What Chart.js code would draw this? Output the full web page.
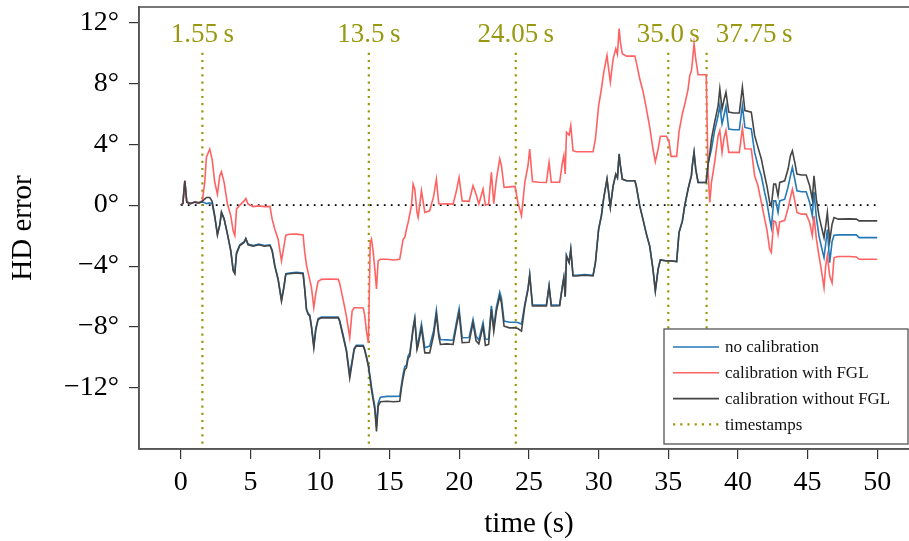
<!DOCTYPE html>
<html><head><meta charset="utf-8">
<script src="https://cdn.jsdelivr.net/npm/chart.js@4.4.1/dist/chart.umd.min.js"></script>
<style>
html,body{margin:0;padding:0;background:#fff;overflow:hidden;width:909px;height:541px;}
#wrap{position:relative;width:930px;height:541px;}
</style></head><body>
<div id="wrap"><canvas id="c" width="930" height="541"></canvas></div>
<script>
// ---- data ----
const time = [
 0,0.15,0.29,0.43,0.7,1.0,1.3,1.55,1.72,1.84,2.08,2.25,2.44,2.63,2.8,2.92,3.11,3.35,3.59,3.76,3.88,4.0,4.24,4.55,4.67,4.83,
 5.2,5.6,6.0,6.4,6.56,6.75,6.99,7.23,7.39,7.54,7.8,8.3,8.78,8.9,9.02,9.14,9.26,9.38,9.55,9.69,9.86,
 10.1,10.7,11.3,11.4,11.65,11.89,12.13,12.3,12.45,12.6,13.1,13.2,13.33,13.47,
 13.5,13.6,13.69,13.81,13.93,14.05,14.17,14.33,14.8,15.3,15.72,15.84,15.96,16.08,16.2,16.32,16.44,16.56,16.68,16.8,16.96,
 17.04,17.28,17.52,17.87,18.16,18.35,18.52,18.64,19.1,19.55,19.79,19.98,20.2,20.7,
 20.98,21.2,21.4,21.7,21.87,22.1,22.3,22.47,22.66,22.9,23.02,23.21,23.6,24.0,24.2,24.46,
 24.7,24.93,25.05,25.25,25.7,26.25,26.44,26.6,27.2,27.4,27.5,27.6,27.69,27.88,28.0,28.16,28.4,29.0,29.6,29.77,
 30.0,30.2,30.37,30.6,30.72,30.84,31.04,31.23,31.35,31.47,31.56,31.7,32.0,32.6,32.7,32.95,33.2,33.43,33.67,33.9,34.07,34.27,34.43,
 34.86,35.05,35.2,35.6,35.77,36.01,36.18,36.42,36.54,36.66,36.71,36.85,36.97,37.14,37.72,
 37.86,37.98,38.1,38.33,38.58,38.7,38.86,39.0,39.14,39.34,39.7,40.1,40.32,40.5,40.96,41.2,
 41.44,41.68,41.92,42.08,42.28,42.4,42.57,42.71,42.88,43.0,43.36,43.6,43.77,43.91,44.08,44.24,44.56,44.9,45.15,45.34,
 45.46,45.63,45.82,45.98,46.18,46.3,46.42,46.59,46.76,46.9,47.2,48.0,48.5,48.7,50.0
];
const noCalibration = [
 0,0.1,1.6,0.2,0.1,0.2,0.15,0.2,0.15,0.1,0.15,0.1,-0.8,-1.9,-1.3,-0.5,-0.9,-1.9,-3.0,-4.2,-4.4,-3.1,-2.6,-2.4,-2.2,-2.55,
 -2.65,-2.55,-2.65,-2.6,-2.95,-3.95,-4.85,-6.2,-5.4,-4.5,-4.45,-4.4,-4.45,-5.5,-6.8,-7.1,-7.2,-7.9,-9.2,-8.1,-7.45,
 -7.35,-7.35,-7.35,-7.55,-8.5,-9.5,-11.1,-10.2,-9.4,-9.2,-9.2,-9.45,-9.95,-10.5,
 -10.7,-11.3,-11.9,-12.6,-13.2,-14.5,-13.0,-12.6,-12.55,-12.55,-12.54,-11.8,-11.1,-10.6,-10.5,-9.9,-9.7,-8.9,-8.0,-7.4,-9.3,
 -9.0,-7.8,-9.36,-9.25,-8.2,-6.9,-8.4,-8.82,-8.84,-8.86,-7.7,-6.8,-8.7,-8.68,
 -7.5,-8.6,-8.85,-7.7,-8.8,-8.8,-6.6,-8.0,-6.7,-5.7,-6.1,-7.61,-7.68,-7.68,-7.7,-7.8,
 -6.5,-5.45,-4.55,-6.55,-6.55,-6.55,-5.3,-6.55,-6.55,-5.3,-4.75,-6.0,-3.3,-3.75,-2.9,-4.6,-4.6,-4.55,-4.6,-3.75,
 -1.55,-0.65,0.5,1.7,0.8,-0.1,1.25,2.0,1.8,3.3,2.6,1.7,1.6,1.6,1.25,-0.05,-1.0,-1.9,-2.7,-4.2,-5.6,-4.2,-3.6,
 -3.65,-3.65,-3.65,-3.7,-1.8,-1.05,-0.04,1.05,1.5,1.93,2.5,3.46,2.37,1.49,1.49,
 2.71,3.2,3.68,4.9,5.88,6.53,5.33,5.9,6.5,5.0,4.95,4.95,6.53,5.1,5.0,3.46,
 2.59,1.93,0.83,0.18,-0.92,-1.47,0.28,0.28,-0.48,0.28,0.39,1.2,1.93,2.48,1.7,0.94,0.88,0.88,0.18,-0.7,
 0.88,-0.8,-2.02,-2.68,-3.44,-2.55,-1.6,-3.77,-2.4,-1.97,-1.95,-1.95,-1.95,-2.13,-2.13
];
const withFGL = [
 0,0.1,1.6,0.2,0.1,0.2,0.15,0.3,1.5,3.14,3.68,3.0,1.5,0.72,1.93,2.19,1.49,0.07,-0.7,-1.69,-2.0,-0.26,0.0,0.28,0.44,0.07,
 -0.1,-0.05,-0.1,-0.08,-0.92,-1.58,-2.24,-3.66,-2.79,-1.97,-1.91,-1.9,-1.95,-3.1,-3.9,-4.43,-4.9,-5.4,-6.73,-5.8,-5.0,
 -4.87,-4.85,-4.87,-5.1,-6.18,-7.28,-8.7,-6.95,-6.73,-6.73,-6.75,-7.2,-8.27,-9.03,
 -9.03,-2.46,-2.24,-3.0,-4.2,-5.5,-3.66,-3.55,-3.55,-3.6,-3.55,-2.9,-2.24,-2.13,-1.58,-1.14,-0.6,-0.04,1.38,1.05,-0.48,
 -0.8,0.94,-0.48,-0.37,0.61,1.71,0.1,0.07,0.08,0.07,0.94,1.82,0.28,0.25,
 1.27,0.72,0.07,1.05,0.0,0.07,2.15,0.1,1.71,3.03,2.6,1.16,1.2,1.23,0.2,-0.7,
 1.49,2.6,3.68,1.55,1.5,1.49,2.81,1.5,1.5,2.81,3.25,2.04,4.78,4.6,5.22,3.57,3.5,3.5,3.5,4.34,
 6.53,7.63,8.73,9.82,8.9,8.07,9.6,10.26,9.9,11.58,10.7,9.93,9.78,9.78,9.4,8.29,7.41,6.32,5.1,3.7,2.85,3.68,4.52,
 4.52,4.2,3.2,3.2,4.8,6.0,6.6,7.6,8.5,8.8,9.2,10.59,9.6,8.55,8.55,
 2.15,0.17,1.5,2.81,4.56,4.9,3.46,4.4,4.9,3.46,3.46,3.46,5.05,3.7,3.68,1.93,
 1.27,0.18,-0.92,-1.6,-2.9,-3.1,-1.03,-1.1,-1.9,-1.1,-1.0,-0.2,0.5,1.05,0.3,-0.48,-0.59,-0.59,-1.14,-2.0,
 -0.7,-2.2,-3.33,-4.2,-5.42,-4.0,-3.3,-4.65,-5.1,-3.44,-3.37,-3.37,-3.4,-3.55,-3.55
];
const withoutFGL = [
 0,0.1,1.6,0.2,0.1,0.2,0.15,0.25,0.4,0.5,0.5,0.25,-0.7,-1.97,-1.3,-0.45,-0.9,-1.9,-3.0,-4.3,-4.5,-3.2,-2.65,-2.45,-2.2,-2.6,
 -2.7,-2.6,-2.7,-2.65,-3.0,-4.0,-4.9,-6.3,-5.5,-4.54,-4.5,-4.45,-4.5,-5.53,-6.84,-7.17,-7.28,-8.0,-9.36,-8.2,-7.5,
 -7.39,-7.4,-7.39,-7.6,-8.6,-9.58,-11.34,-10.35,-9.47,-9.25,-9.25,-9.5,-10.0,-10.57,
 -10.8,-11.45,-12.1,-12.76,-13.4,-14.85,-13.2,-12.9,-12.87,-12.9,-12.87,-12.0,-11.34,-10.8,-10.68,-10.05,-9.91,-9.03,-8.16,-7.5,-9.47,
 -9.2,-8.05,-9.69,-9.69,-8.49,-7.17,-8.6,-9.14,-9.1,-9.14,-7.94,-7.06,-9.03,-9.0,
 -7.72,-8.9,-9.1,-7.94,-9.2,-9.14,-6.84,-8.27,-6.95,-5.96,-6.4,-7.94,-8.05,-8.05,-8.1,-8.27,
 -6.62,-5.53,-4.6,-6.62,-6.6,-6.62,-5.31,-6.62,-6.6,-5.31,-4.76,-6.0,-3.33,-3.77,-2.9,-4.65,-4.65,-4.6,-4.65,-3.77,
 -1.58,-0.7,0.5,1.71,0.8,-0.15,1.27,2.04,1.8,3.36,2.6,1.71,1.6,1.6,1.27,-0.05,-1.0,-1.9,-2.7,-4.2,-5.64,-4.2,-3.6,
 -3.66,-3.66,-3.66,-3.7,-1.8,-1.05,-0.04,1.05,1.5,1.93,2.5,3.46,2.37,1.49,1.49,
 2.71,3.4,4.34,5.44,6.53,7.63,6.3,6.9,7.41,6.1,6.05,6.05,7.74,6.2,6.1,4.56,
 3.79,3.03,1.93,1.27,0.18,-0.04,1.38,1.38,0.61,1.49,1.6,2.37,3.25,3.57,2.81,2.04,1.98,1.98,1.27,0.39,
 1.93,0.39,-0.7,-1.36,-2.13,-1.36,-0.48,-2.35,-1.25,-0.81,-0.92,-0.9,-0.92,-1.03,-1.03
];
const timestampTimes = [1.55, 13.5, 24.05, 35.0, 37.75];
const timestampLabels = ['1.55\u2009s', '13.5\u2009s', '24.05\u2009s', '35.0\u2009s', '37.75\u2009s'];
const timestampSpan = [10, -16];
const zeroLineTimes = [0, 50];
const xTicks = [0, 5, 10, 15, 20, 25, 30, 35, 40, 45, 50];
const yTicks = [-12, -8, -4, 0, 4, 8, 12];
const seriesNames = ['no calibration', 'calibration with FGL', 'calibration without FGL', 'timestamps'];

// ---- styling ----
const SERIF = '"Liberation Serif", "Times New Roman", serif';
const OLIVE = '#999911';
const COLORS = {blue: '#2478b6', red: '#ff6262', dark: '#454545'};

const pts = (vals) => time.map((t, i) => ({x: t, y: vals[i]}));

const datasets = [
  {label: seriesNames[0], data: pts(noCalibration), borderColor: COLORS.blue, borderWidth: 1.6, order: 3},
  {label: seriesNames[1], data: pts(withFGL), borderColor: COLORS.red, borderWidth: 1.6, order: 2},
  {label: seriesNames[2], data: pts(withoutFGL), borderColor: COLORS.dark, borderWidth: 1.6, order: 1},
];
timestampTimes.forEach((t, i) => {
  datasets.push({label: i === 0 ? seriesNames[3] : '_ts' + i,
    data: timestampSpan.map(v => ({x: t, y: v})),
    borderColor: OLIVE, borderWidth: 2.2, borderDash: [2.2, 5], order: 5});
});
datasets.push({label: '_zero', data: zeroLineTimes.map(t => ({x: t, y: 0})),
  borderColor: '#000', borderWidth: 1.8, borderDash: [1.8, 5.2], order: 6});
datasets.forEach(d => { d.pointRadius = 0; d.tension = 0; d.fill = false; d.borderCapStyle = 'butt'; });

const framePlugin = {
  id: 'frame',
  afterDraw(chart) {
    const {ctx, chartArea: a} = chart;
    ctx.save();
    ctx.strokeStyle = '#555'; ctx.lineWidth = 1.6;
    ctx.strokeRect(a.left, a.top, a.right - a.left, a.bottom - a.top);
    ctx.restore();
  }
};

const stampLabelPlugin = {
  id: 'stampLabels',
  afterDatasetsDraw(chart) {
    const {ctx, chartArea: a, scales: {x}} = chart;
    ctx.save();
    ctx.font = '27px ' + SERIF;
    ctx.fillStyle = OLIVE;
    ctx.textBaseline = 'middle';
    ctx.textAlign = 'left';
    let prevRight = -Infinity;
    timestampTimes.forEach((t, i) => {
      const px = x.getPixelForValue(t);
      const w = ctx.measureText(timestampLabels[i]).width;
      const left = Math.max(px - w / 2, prevRight + 16);
      ctx.fillText(timestampLabels[i], left, a.top + 28);
      prevRight = left + w;
    });
    ctx.restore();
  }
};

const legendPlugin = {
  id: 'boxLegend',
  afterDatasetsDraw(chart) {
    const {ctx, chartArea: a} = chart;
    const w = 244, h = 115;
    const right = a.right - 11, bottom = a.bottom - 5;
    const left = right - w, top = bottom - h;
    ctx.save();
    ctx.fillStyle = '#fff'; ctx.fillRect(left, top, w, h);
    ctx.strokeStyle = '#555'; ctx.lineWidth = 1.3; ctx.strokeRect(left, top, w, h);
    ctx.font = '17px ' + SERIF;
    ctx.textBaseline = 'middle';
    seriesNames.forEach((name, i) => {
      const ds = chart.data.datasets.find(d => d.label === name);
      const y = top + 18 + i * 25.8;
      ctx.beginPath();
      ctx.setLineDash(ds.borderDash || []);
      ctx.strokeStyle = ds.borderColor; ctx.lineWidth = ds.borderWidth;
      ctx.moveTo(left + 9, y); ctx.lineTo(left + 55, y); ctx.stroke();
      ctx.setLineDash([]);
      ctx.fillStyle = '#111';
      ctx.fillText(name, left + 61, y + 1);
    });
    ctx.restore();
  }
};

const zeroPad = s => { s.paddingTop = 0; s.paddingBottom = 0; s.paddingLeft = 0; s.paddingRight = 0; };

new Chart(document.getElementById('c'), {
  type: 'line',
  data: {datasets},
  options: {
    responsive: false, animation: false, devicePixelRatio: 1,
    layout: {padding: {top: 7, right: 11, left: 0, bottom: 0}},
    plugins: {legend: {display: false}, tooltip: {enabled: false}},
    scales: {
      x: {
        type: 'linear', min: -3, max: 53,
        afterBuildTicks: s => { s.ticks = xTicks.map(v => ({value: v})); },
        afterFit: s => { s.height = 92; zeroPad(s); },
        ticks: {color: '#000', font: {family: SERIF, size: 28}, padding: 7, maxRotation: 0, autoSkip: false},
        grid: {drawOnChartArea: false, drawTicks: true, tickLength: 10, color: '#333', lineWidth: 1.2},
        border: {display: true, color: '#555', width: 1.6},
        title: {display: true, text: 'time (s)', color: '#000', font: {family: SERIF, size: 29, lineHeight: 1.0}, padding: {top: 0, bottom: 2}}
      },
      y: {
        type: 'linear', min: -16, max: 13,
        afterBuildTicks: s => { s.ticks = yTicks.map(v => ({value: v})); },
        afterFit: s => { s.width = 139; zeroPad(s); },
        ticks: {color: '#000', font: {family: SERIF, size: 28}, padding: 10,
          callback: v => (v < 0 ? '\u2212' : '') + Math.abs(v) + '\u00B0'},
        grid: {drawOnChartArea: false, drawTicks: true, tickLength: 10, color: '#333', lineWidth: 1.2},
        border: {display: true, color: '#555', width: 1.6},
        title: {display: true, text: 'HD error', color: '#000', font: {family: SERIF, size: 29, lineHeight: 1.0}, padding: {top: 9, bottom: 0}}
      }
    }
  },
  plugins: [framePlugin, stampLabelPlugin, legendPlugin]
});
</script>
</body></html>
